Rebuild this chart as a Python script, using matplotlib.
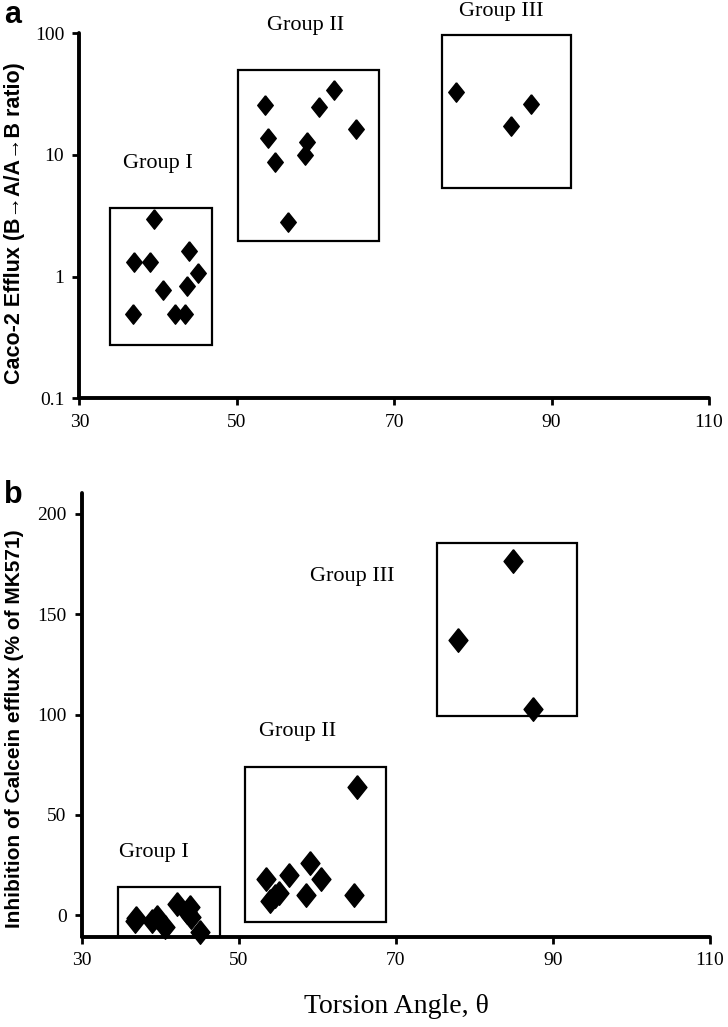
import matplotlib
matplotlib.use('Agg')
import matplotlib.pyplot as plt
from matplotlib.patches import Rectangle

# panel a: Caco-2 efflux ratio vs torsion angle
angle_a_g1 = [36.8, 36.9, 38.9, 39.5, 40.6, 42.1, 43.4, 43.7, 43.9, 45.0]
efflux_a_g1 = [0.49, 1.31, 1.31, 3.0, 0.77, 0.49, 0.49, 0.84, 1.63, 1.07]
angle_a_g2 = [53.6, 53.9, 54.9, 56.5, 58.6, 58.9, 60.4, 62.4, 65.2]
efflux_a_g2 = [25.9, 13.9, 8.8, 2.8, 9.9, 12.8, 24.9, 34.4, 16.4]
angle_a_g3 = [77.9, 84.8, 87.4]
efflux_a_g3 = [33.0, 17.2, 26.0]

# panel b: inhibition of calcein efflux vs torsion angle
angle_b_g1 = [36.8, 36.9, 38.9, 39.5, 40.6, 42.1, 43.4, 43.7, 43.9, 45.0]
inhib_b_g1 = [-3.0, -1.5, -2.9, -0.6, -5.6, 5.5, 1.5, 4.1, -0.6, -8.2]
angle_b_g2 = [53.4, 53.9, 54.6, 55.1, 56.4, 58.5, 59.1, 60.5, 64.6, 65.0]
inhib_b_g2 = [18.0, 7.0, 9.6, 11.3, 20.1, 9.9, 26.2, 18.3, 9.9, 63.7]
angle_b_g3 = [77.9, 84.9, 87.4]
inhib_b_g3 = [137.3, 176.3, 103.0]

group_names = ['Group I', 'Group II', 'Group III']
# group boxes (x0, x1, y0, y1)
boxes_a = [(33.9, 46.9, 0.275, 3.69), (50.1, 68.0, 1.95, 50.2), (76.1, 92.4, 5.37, 96)]
boxes_b = [(34.6, 47.6, -10.8, 14.0), (50.8, 68.7, -3.5, 73.8), (75.2, 93.1, 99.5, 185.3)]
labels_a = [(39.9, 8.5), (58.7, 116), (83.6, 150)]
labels_b = [(39.15, 31.4), (57.45, 91.6), (64.4, 168.8)]

x_ticks = [30, 50, 70, 90, 110]
y_ticks_a = [0.1, 1, 10, 100]
y_tick_labels_a = ['0.1', '1', '10', '100']
y_ticks_b = [0, 50, 100, 150, 200]

serif = 'Liberation Serif'
sans = ['Liberation Sans', 'DejaVu Sans']

diamond = [(0, 1), (0.8, 0), (0, -1), (-0.8, 0), (0, 1)]

fig = plt.figure(figsize=(7.28, 10.27), dpi=100)
ax_a = fig.add_axes([0.1092, 0.6122, 0.8647, 0.3554])
ax_b = fig.add_axes([0.1126, 0.0876, 0.8626, 0.4326])


def style_axis(ax):
    for side in ['top', 'right']:
        ax.spines[side].set_visible(False)
    for side in ['left', 'bottom']:
        ax.spines[side].set_linewidth(2.8)
        ax.spines[side].set_capstyle('round')
    ax.tick_params(which='major', direction='out', length=5, width=2, pad=6,
                   labelsize=14)
    ax.tick_params(which='minor', length=0)
    for lab in ax.get_xticklabels() + ax.get_yticklabels():
        lab.set_family(serif)


# --- panel a ---
for xs, ys in [(angle_a_g1, efflux_a_g1), (angle_a_g2, efflux_a_g2), (angle_a_g3, efflux_a_g3)]:
    ax_a.plot(xs, ys, linestyle='none', marker=diamond, markersize=14,
              color='black', clip_on=False)
for (x0, x1, y0, y1) in boxes_a:
    ax_a.add_patch(Rectangle((x0, y0), x1 - x0, y1 - y0, fill=False,
                             edgecolor='black', linewidth=1.6, clip_on=False))
for name, (tx, ty) in zip(group_names, labels_a):
    ax_a.text(tx, ty, name, family=serif, fontsize=16, ha='center', va='center',
              clip_on=False)
ax_a.set_yscale('log')
ax_a.set_xlim(30, 110)
ax_a.set_ylim(0.1, 100)
ax_a.set_xticks(x_ticks)
ax_a.set_yticks(y_ticks_a)
ax_a.set_yticklabels(y_tick_labels_a)
ax_a.yaxis.set_minor_locator(matplotlib.ticker.NullLocator())
ax_a.tick_params(axis='x', pad=14)
style_axis(ax_a)
ax_a.set_ylabel('Caco-2 Efflux (B\u2192A/A\u2192B ratio)', family=sans,
                fontsize=15.5, fontweight='bold')
ax_a.yaxis.set_label_coords(-0.086, 0.48)

# --- panel b ---
for xs, ys in [(angle_b_g1, inhib_b_g1), (angle_b_g2, inhib_b_g2), (angle_b_g3, inhib_b_g3)]:
    ax_b.plot(xs, ys, linestyle='none', marker=diamond, markersize=17,
              color='black', clip_on=False)
for (x0, x1, y0, y1) in boxes_b:
    ax_b.add_patch(Rectangle((x0, y0), x1 - x0, y1 - y0, fill=False,
                             edgecolor='black', linewidth=1.6, clip_on=False))
for name, (tx, ty) in zip(group_names, labels_b):
    ax_b.text(tx, ty, name, family=serif, fontsize=16, ha='center', va='center',
              clip_on=False)
ax_b.set_xlim(30, 110)
ax_b.set_ylim(-10.8, 210.5)
ax_b.set_xticks(x_ticks)
ax_b.set_yticks(y_ticks_b)
style_axis(ax_b)
ax_b.set_ylabel('Inhibition of Calcein efflux (% of MK571)', family=sans,
                fontsize=15, fontweight='bold')
ax_b.yaxis.set_label_coords(-0.092, 0.47)
ax_b.set_xlabel('Torsion Angle, \u03b8', family=serif, fontsize=20, labelpad=18)

fig.text(4 / 728, 1 - 23 / 1027, 'a', family=sans, fontsize=22, fontweight='bold')
fig.text(4 / 728, 1 - 503 / 1027, 'b', family=sans, fontsize=22, fontweight='bold')

fig.savefig('out.png', dpi=100)
